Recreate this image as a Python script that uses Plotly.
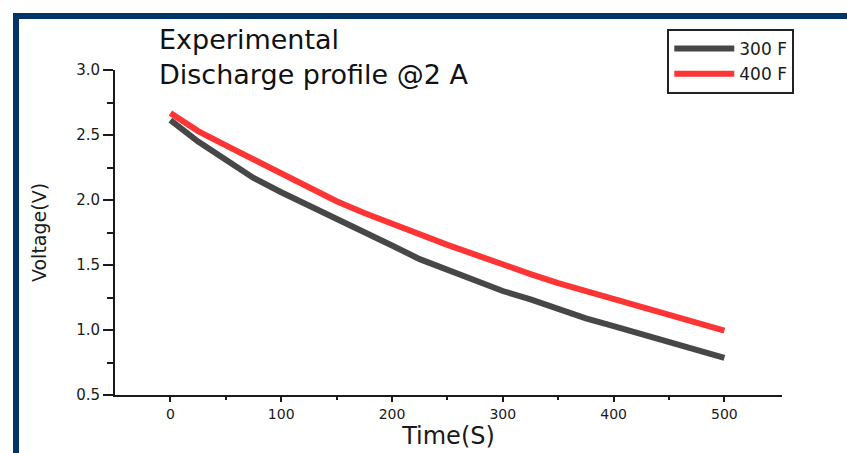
import plotly.graph_objects as go

# ---- data ----
time_s = [0, 25, 50, 75, 100, 125, 150, 175, 200, 225, 250, 275, 300,
          325, 350, 375, 400, 425, 450, 475, 500]
v_300f = [2.615, 2.45, 2.31, 2.17, 2.06, 1.96, 1.86, 1.755, 1.65, 1.545, 1.46,
          1.38, 1.30, 1.235, 1.16, 1.09, 1.03, 0.97, 0.90, 0.84, 0.785]
v_400f = [2.67, 2.53, 2.42, 2.31, 2.20, 2.09, 1.99, 1.90, 1.815, 1.735, 1.655,
          1.58, 1.50, 1.43, 1.36, 1.30, 1.24, 1.17, 1.11, 1.05, 0.995]
series_names = ["300 F", "400 F"]
x_ticks = [0, 100, 200, 300, 400, 500]
x_minor = [50, 150, 250, 350, 450]
y_ticks = [0.5, 1.0, 1.5, 2.0, 2.5, 3.0]
y_minor = [0.75, 1.25, 1.75, 2.25, 2.75]
title_lines = ["Experimental", "Discharge profile @2 A"]

FONT = "DejaVu Sans"
TXT = "#1a1a1a"

fig = go.Figure()
fig.add_trace(go.Scatter(x=time_s, y=v_300f, mode="lines", name=series_names[0],
                         line=dict(color="#474747", width=6)))
fig.add_trace(go.Scatter(x=time_s, y=v_400f, mode="lines", name=series_names[1],
                         line=dict(color="#ff3535", width=6)))

fig.update_layout(
    width=847, height=453,
    margin=dict(l=115, r=65, t=70, b=58, autoexpand=False),
    paper_bgcolor="white", plot_bgcolor="white",
    font=dict(family=FONT, color=TXT),
    showlegend=True,
    legend=dict(x=0.828, y=1.126, xanchor="left", yanchor="top",
                bgcolor="white", bordercolor="#222", borderwidth=2,
                font=dict(family=FONT, size=17, color=TXT),
                itemwidth=60, tracegroupgap=0),
    xaxis=dict(range=[-50, 552], tickmode="array", tickvals=x_ticks,
               automargin=False,
               showgrid=False, zeroline=False, showline=True,
               linecolor="#1a1a1a", linewidth=2,
               ticks="outside", ticklen=5, tickwidth=2, tickcolor="#1a1a1a",
               tickfont=dict(family=FONT, size=14, color=TXT),
               minor=dict(tickmode="array", tickvals=x_minor, ticks="outside",
                          ticklen=3, tickwidth=2, tickcolor="#1a1a1a"),
               title=dict(text="Time(S)", font=dict(family=FONT, size=24, color=TXT),
                          standoff=6)),
    yaxis=dict(range=[0.5, 3.0], tickmode="array", tickvals=y_ticks,
               tickformat=".1f", automargin=False,
               showgrid=False, zeroline=False, showline=True,
               linecolor="#1a1a1a", linewidth=2,
               ticks="outside", ticklen=10, tickwidth=2, tickcolor="#1a1a1a",
               tickfont=dict(family=FONT, size=15, color=TXT),
               minor=dict(tickmode="array", tickvals=y_minor, ticks="outside",
                          ticklen=6, tickwidth=2, tickcolor="#1a1a1a"),
               title=dict(text="Voltage(V)", font=dict(family=FONT, size=19, color=TXT),
                          standoff=24)),
)

# title text
fig.add_annotation(text="<br>".join(title_lines), xref="paper", yref="paper",
                   x=(157 - 115) / 667, y=(395 - 22) / 325,
                   xanchor="left", yanchor="top", showarrow=False, align="left",
                   font=dict(family=FONT, size=27, color="#111"))

# dark-blue frame along the top and left edges
frame_x = (16 - 115) / 667
frame_y = (395 - 16) / 325
fig.add_shape(type="line", xref="paper", yref="paper",
              x0=frame_x, x1=frame_x, y0=-1, y1=frame_y + 0.009,
              line=dict(color="#003366", width=6))
fig.add_shape(type="line", xref="paper", yref="paper",
              x0=frame_x - 0.0045, x1=2, y0=frame_y, y1=frame_y,
              line=dict(color="#003366", width=6))

fig.write_html("out.html")
